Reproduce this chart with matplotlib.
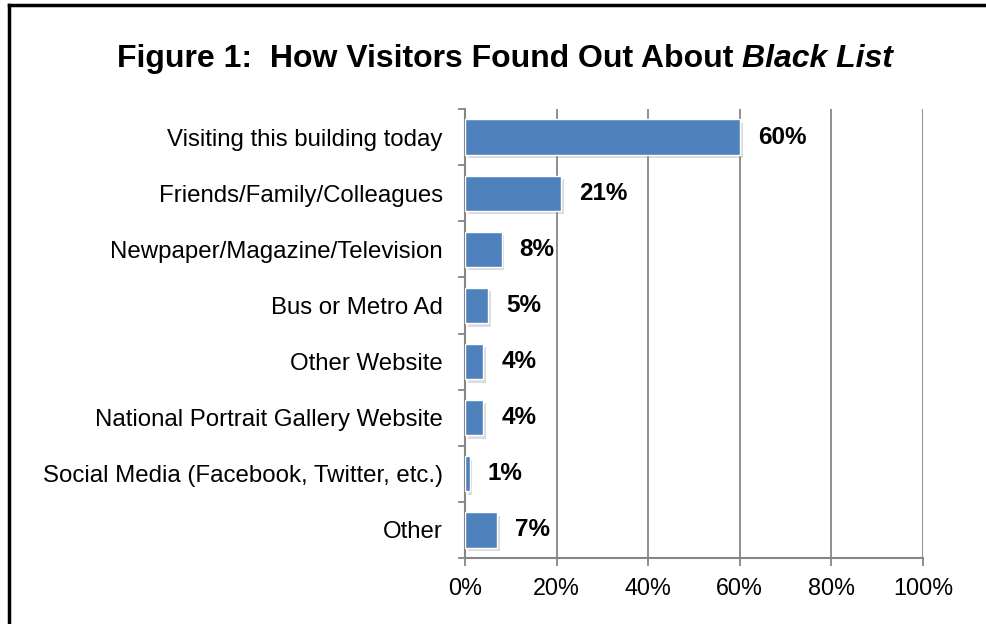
import matplotlib
matplotlib.use("Agg")
import matplotlib.pyplot as plt
import matplotlib.patheffects as pe
from matplotlib.lines import Line2D
import numpy as np

plt.rcParams['font.family'] = ['Liberation Sans', 'DejaVu Sans']

categories = [
    "Visiting this building today",
    "Friends/Family/Colleagues",
    "Newpaper/Magazine/Television",
    "Bus or Metro Ad",
    "Other Website",
    "National Portrait Gallery Website",
    "Social Media (Facebook, Twitter, etc.)",
    "Other",
]
values = [60, 21, 8, 5, 4, 4, 1, 7]
xticks = [0, 20, 40, 60, 80, 100]
xtick_labels = ["0%", "20%", "40%", "60%", "80%", "100%"]

bar_color = "#4F81BD"
axis_gray = "#868686"

W, H = 986, 624
fig = plt.figure(figsize=(W / 100, H / 100), dpi=100)
ax = fig.add_axes([465 / W, 1 - 558 / H, (923 - 465) / W, (558 - 109) / H])

y = np.arange(len(categories))
bars = ax.barh(y, values, height=0.63, color=bar_color, edgecolor="white",
               linewidth=1.0, zorder=3)
for b in bars:
    b.set_path_effects([
        pe.SimplePatchShadow(offset=(2, -2.5), shadow_rgbFace="#8c8c8c", alpha=0.3),
        pe.Normal(),
    ])

for yi, v in zip(y, values):
    ax.annotate(f"{v}%", xy=(v, yi), xytext=(13, 0), textcoords="offset points",
                va="center", ha="left", fontsize=17.5, fontweight="bold",
                color="black", zorder=4)

ax.set_xlim(0, 100)
ax.set_ylim(len(categories) - 0.5, -0.5)
ax.set_xticks(xticks)
ax.set_xticklabels(xtick_labels, fontsize=16.8)
ax.set_yticks(y)
ax.set_yticklabels(categories, fontsize=17.3)
ax.set_yticks(np.arange(-0.5, len(categories)), minor=True)

ax.xaxis.grid(True, color=axis_gray, linewidth=1.3, zorder=0)
ax.set_axisbelow(True)

for side in ("top", "right"):
    ax.spines[side].set_visible(False)
for side in ("left", "bottom"):
    ax.spines[side].set_color(axis_gray)
    ax.spines[side].set_linewidth(1.5)

ax.tick_params(axis="y", which="major", length=0, pad=16)
ax.tick_params(axis="y", which="minor", length=5, width=1.3, color=axis_gray, direction="out")
ax.tick_params(axis="x", which="major", length=6, width=1.3, color=axis_gray, pad=8)

# Title: regular bold part followed by the italic exhibition name, centred as a whole
title_y = 1 - 67 / H
t1 = fig.text(0, title_y, "Figure 1:  How Visitors Found Out About ",
              ha="left", va="baseline", fontsize=23, fontweight="bold")
t2 = fig.text(0, title_y, "Black List", ha="left", va="baseline", fontsize=23,
              fontweight="bold", fontstyle="italic")
renderer = fig.canvas.get_renderer()
w1 = t1.get_window_extent(renderer).width
w2 = t2.get_window_extent(renderer).width
x0 = 505 - (w1 + w2) / 2
t1.set_x(x0 / W)
t2.set_x((x0 + w1) / W)

# frame lines at top and left
fig.add_artist(Line2D([9 / W, 9 / W], [0, 1 - 5 / H], color="black", linewidth=2.5,
                      transform=fig.transFigure))
fig.add_artist(Line2D([9 / W, 1.0], [1 - 5 / H, 1 - 5 / H], color="black", linewidth=2.5,
                      transform=fig.transFigure))

fig.savefig("out.png", dpi=100, facecolor="white")
